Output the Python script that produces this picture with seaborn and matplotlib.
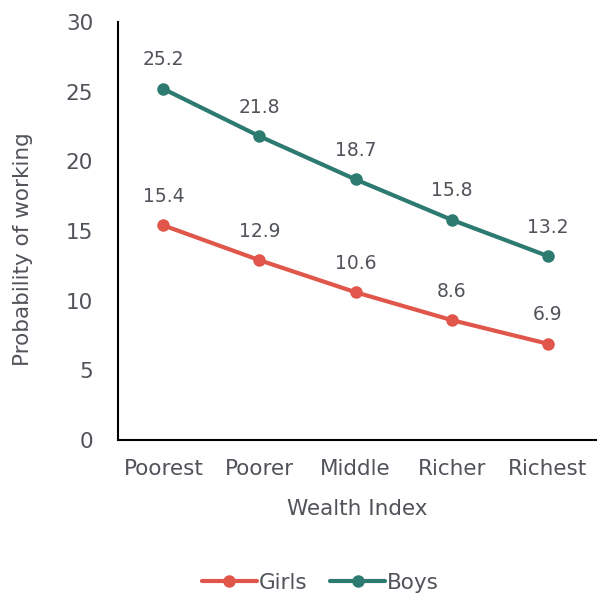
import matplotlib
matplotlib.use("Agg")
import matplotlib.pyplot as plt
import seaborn as sns
import pandas as pd

# Values
wealth = ["Poorest", "Poorer", "Middle", "Richer", "Richest"]
girls = [15.4, 12.9, 10.6, 8.6, 6.9]
boys = [25.2, 21.8, 18.7, 15.8, 13.2]

sns.set_theme(style="white")
plt.rcParams['font.family'] = ['DejaVu Sans']
text_col = "#505359"

df = pd.DataFrame({
    "x": list(range(len(wealth))) * 2,
    "value": girls + boys,
    "group": ["Girls"] * len(girls) + ["Boys"] * len(boys),
})
palette = {"Girls": "#E0564A", "Boys": "#2C7A70"}

fig = plt.figure(figsize=(5.97, 5.96), dpi=100)
ax = fig.add_axes([0.198, 0.262, 0.80, 0.701])

sns.lineplot(data=df, x="x", y="value", hue="group", hue_order=["Girls", "Boys"],
             palette=palette, marker="o", markersize=9, markeredgewidth=0,
             linewidth=3, ax=ax)

for series in (girls, boys):
    for i, v in enumerate(series):
        ax.annotate(f"{v:.1f}", (i, v), xytext=(0, 14), textcoords="offset points",
                    ha="center", va="bottom", fontsize=13.5, color=text_col)

ax.set_xlim(-0.47, 4.5)
ax.set_ylim(0, 30)
ax.set_yticks(range(0, 31, 5))
ax.set_xticks(range(len(wealth)))
ax.set_xticklabels(wealth)
ax.tick_params(axis="both", length=0, labelsize=15.5, colors=text_col, pad=14)
ax.tick_params(axis="y", pad=18)
ax.set_xlabel("Wealth Index", fontsize=15.5, color=text_col, labelpad=14)
ax.set_ylabel("Probability of working", fontsize=15.5, color=text_col)
ax.yaxis.set_label_coords(-0.178, 0.457)

for s in ["top", "right"]:
    ax.spines[s].set_visible(False)
for s in ["left", "bottom"]:
    ax.spines[s].set_color("black")
    ax.spines[s].set_linewidth(1.5)

handles, labels = ax.get_legend_handles_labels()
ax.legend_.remove()
fig.legend(handles, labels, loc="center", bbox_to_anchor=(0.537, 0.022), ncol=2,
           frameon=False, fontsize=15.5, handlelength=2.55, columnspacing=1.05,
           handletextpad=0.1, labelcolor=text_col)

fig.savefig("out.png", dpi=100)
